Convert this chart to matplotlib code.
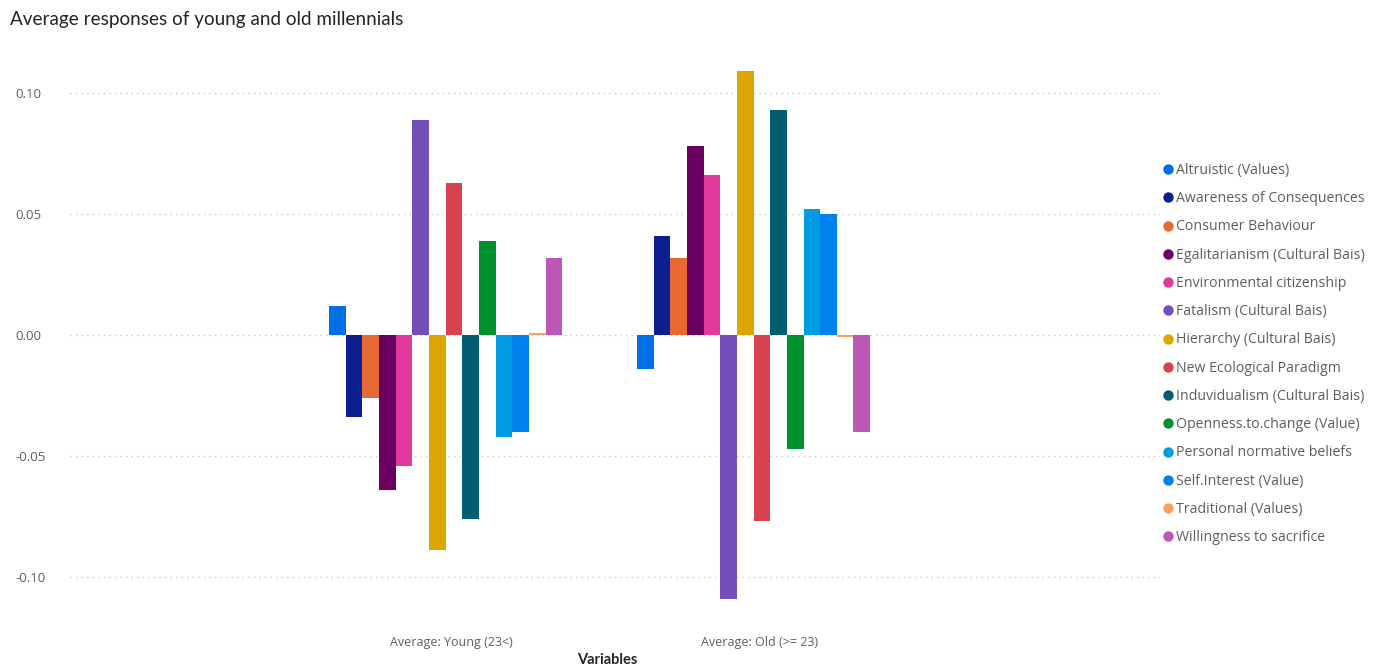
import matplotlib
matplotlib.use("Agg")
import matplotlib.pyplot as plt
import numpy as np
from matplotlib.lines import Line2D

groups = ["Average: Young (23<)", "Average: Old (>= 23)"]

variables = [
    "Altruistic (Values)",
    "Awareness of Consequences",
    "Consumer Behaviour",
    "Egalitarianism (Cultural Bais)",
    "Environmental citizenship",
    "Fatalism (Cultural Bais)",
    "Hierarchy (Cultural Bais)",
    "New Ecological Paradigm",
    "Induvidualism (Cultural Bais)",
    "Openness.to.change (Value)",
    "Personal normative beliefs",
    "Self.Interest (Value)",
    "Traditional (Values)",
    "Willingness to sacrifice",
]

young = [0.012, -0.034, -0.026, -0.064, -0.054, 0.089, -0.089, 0.063,
         -0.076, 0.039, -0.042, -0.040, 0.001, 0.032]
old = [-0.014, 0.041, 0.032, 0.078, 0.066, -0.109, 0.109, -0.077,
       0.093, -0.047, 0.052, 0.050, -0.001, -0.040]

colors = ["#0070E6", "#0C1F8E", "#E86A33", "#6A0060", "#E03B9C", "#744FBA",
          "#DDA500", "#D6434F", "#005E70", "#00912F", "#009CE2", "#0082EE",
          "#FFA05A", "#BC58B6"]

yticks = [-0.10, -0.05, 0.00, 0.05, 0.10]

W, H = 1375, 667
fig = plt.figure(figsize=(W / 100, H / 100), dpi=100)
ax = fig.add_axes([70 / W, 1 - 600 / H, 1090 / W, 535 / H])

n = len(variables)
group_width = 0.757
bw = group_width / n
xc = np.arange(len(groups))
for i, (name, col) in enumerate(zip(variables, colors)):
    offs = -group_width / 2 + bw * (i + 0.5)
    ax.bar(xc + offs, [young[i], old[i]], width=bw, color=col, label=name,
           linewidth=0)

ax.set_xlim(-1.22, 2.32)
ax.set_ylim(-0.1095, 0.1116)

for s in ax.spines.values():
    s.set_visible(False)

ax.set_yticks(yticks)
ax.set_yticklabels([f"{v:.2f}" for v in yticks])
ax.yaxis.grid(True, linestyle=(0, (1, 3)), color="#C8C8C8", linewidth=1)
ax.set_axisbelow(True)
ax.tick_params(axis="y", length=0, pad=39.5, labelsize=9.5, labelcolor="#605E5C")
for lab in ax.get_yticklabels():
    lab.set_horizontalalignment("left")
    lab.set_fontfamily("Open Sans")

ax.set_xticks(xc + 0.02)
ax.set_xticklabels(groups)
ax.tick_params(axis="x", length=0, pad=26, labelsize=9, labelcolor="#605E5C")
for lab in ax.get_xticklabels():
    lab.set_fontfamily("Open Sans")

fig.text(607 / W, 1 - 660 / H, "Variables", ha="center", va="center",
         fontsize=10.5, color="#252423", family="Lato", fontweight="bold")

fig.text(10 / W, 1 - 20 / H, "Average responses of young and old millennials",
         ha="left", va="center", fontsize=13.6, color="#252423", family="Lato")

handles = [Line2D([], [], marker="o", linestyle="none", markersize=7.5,
                  markerfacecolor=c, markeredgewidth=0) for c in colors]
leg = fig.legend(handles, variables, loc="upper left",
                 bbox_to_anchor=(1164 / W, 1 - 163 / H),
                 frameon=False, handlelength=0.6, handletextpad=0.25,
                 labelspacing=0.935, borderpad=0, borderaxespad=0,
                 prop={"family": "Open Sans", "size": 10.2})
for t in leg.get_texts():
    t.set_color("#605E5C")

fig.savefig("out.png", dpi=100)
